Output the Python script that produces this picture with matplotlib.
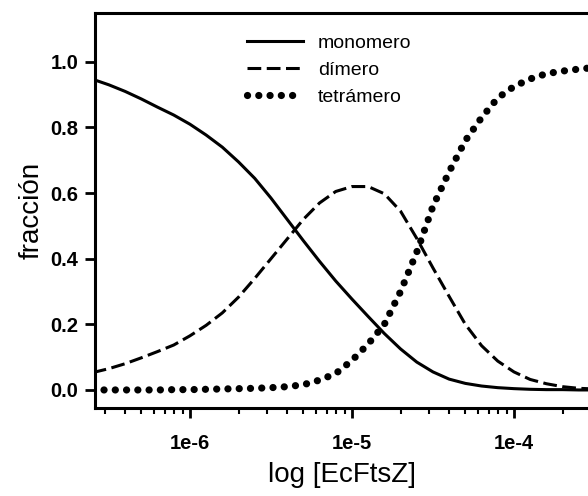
import matplotlib
matplotlib.use('Agg')
import matplotlib.pyplot as plt
import matplotlib.ticker as ticker
import numpy as np

# log10 of concentration (M) at which the curves were read
log_conc = [-6.6, -6.5, -6.4, -6.3, -6.2, -6.1, -6.0, -5.9, -5.8, -5.7,
            -5.6, -5.5, -5.4, -5.3, -5.2, -5.1, -5.0, -4.9, -4.8, -4.7,
            -4.6, -4.5, -4.4, -4.3, -4.2, -4.1, -4.0, -3.9, -3.8, -3.7,
            -3.6, -3.5]

monomero = [0.947, 0.930, 0.910, 0.887, 0.862, 0.838, 0.810, 0.777, 0.740, 0.695,
            0.645, 0.585, 0.520, 0.455, 0.392, 0.332, 0.277, 0.224, 0.172, 0.125,
            0.085, 0.055, 0.033, 0.020, 0.012, 0.007, 0.004, 0.002, 0.001, 0.001,
            0.0, 0.0]

dimero = [0.053, 0.065, 0.080, 0.098, 0.117, 0.137, 0.165, 0.197, 0.235, 0.283,
          0.340, 0.400, 0.460, 0.520, 0.570, 0.605, 0.620, 0.620, 0.598, 0.545,
          0.462, 0.372, 0.285, 0.200, 0.135, 0.088, 0.055, 0.032, 0.019, 0.010,
          0.005, 0.003]

tetramero = [0.0, 0.0, 0.0, 0.0, 0.0, 0.001, 0.001, 0.002, 0.003, 0.004,
             0.005, 0.007, 0.010, 0.016, 0.030, 0.050, 0.090, 0.140, 0.200, 0.300,
             0.420, 0.560, 0.665, 0.760, 0.830, 0.890, 0.925, 0.948, 0.964, 0.972,
             0.978, 0.983]

series_names = ['monomero', 'dímero', 'tetrámero']
xtick_vals = [1e-6, 1e-5, 1e-4]
xtick_labels = ['1e-6', '1e-5', '1e-4']
ytick_vals = [0.0, 0.2, 0.4, 0.6, 0.8, 1.0]

plt.rcParams['font.family'] = ['Liberation Sans', 'DejaVu Sans']

conc = 10 ** np.array(log_conc)

fig = plt.figure(figsize=(5.88, 4.96), dpi=100)
ax = fig.add_axes([95 / 588., 1 - 408 / 496., 1 - 95 / 588., (408 - 13) / 496.])

ax.plot(conc, monomero, color='black', lw=2.2, label=series_names[0])
ax.plot(conc, dimero, color='black', lw=2.2, linestyle=(0, (4.5, 1.8)),
        label=series_names[1])
ax.plot(conc, tetramero, color='black', lw=5.2, linestyle=(0, (0.01, 1.55)),
        dash_capstyle='round', label=series_names[2])

ax.set_xscale('log')
ax.set_xlim(10 ** -6.586, 10 ** -3.543)
ax.set_ylim(-0.055, 1.149)

ax.xaxis.set_major_locator(ticker.FixedLocator(xtick_vals))
ax.xaxis.set_major_formatter(ticker.FixedFormatter(xtick_labels))
ax.xaxis.set_minor_locator(ticker.LogLocator(base=10, subs=np.arange(2, 10)))
ax.xaxis.set_minor_formatter(ticker.NullFormatter())
ax.set_yticks(ytick_vals)
ax.yaxis.set_major_formatter(ticker.FormatStrFormatter('%.1f'))

ax.tick_params(axis='both', which='major', direction='out', length=7, width=2,
               labelsize=14.5)
ax.tick_params(axis='x', which='major', pad=12)
ax.tick_params(axis='y', which='major', pad=5)
ax.tick_params(axis='x', which='minor', direction='out', length=4, width=1.5)
ax.tick_params(axis='y', which='minor', left=False)
for lbl in ax.get_xticklabels() + ax.get_yticklabels():
    lbl.set_fontweight('bold')

for side in ['left', 'bottom', 'top']:
    ax.spines[side].set_linewidth(2.2)
ax.spines['right'].set_visible(False)

ax.set_xlabel('log [EcFtsZ]', fontsize=20, labelpad=6)
ax.set_ylabel('fracción', fontsize=20, labelpad=4)

ax.legend(loc='upper left', bbox_to_anchor=(247 / 588., 1 - 34 / 496.),
          bbox_transform=fig.transFigure, frameon=False, fontsize=14,
          handlelength=2.9, handletextpad=0.75, labelspacing=0.48,
          borderpad=0, borderaxespad=0)

fig.savefig('out.png', dpi=100)
